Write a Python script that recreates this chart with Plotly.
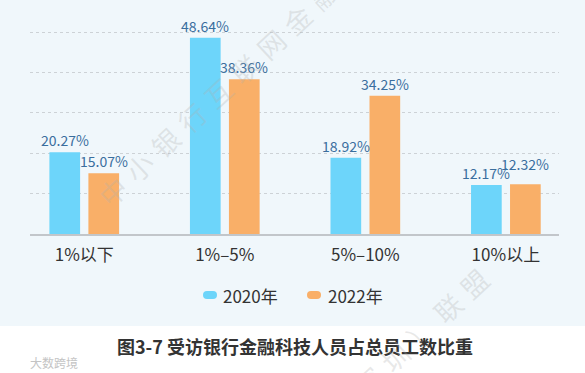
import plotly.graph_objects as go

# ---- data ----
categories = ["1%以下", "1%–5%", "5%–10%", "10%以上"]
series_names = ["2020年", "2022年"]
values_2020 = [20.27, 48.64, 18.92, 12.17]
values_2022 = [15.07, 38.36, 34.25, 12.32]
title_text = "图3-7 受访银行金融科技人员占总员工数比重"
watermark_text = "中小银行互联网金融（深圳）联盟"
logo_text = "大数跨境"

# ---- style ----
FONT = "Noto Sans CJK SC, Noto Sans, sans-serif"
C2020 = "#6DD5FA"
C2022 = "#F9AF68"
LABEL_C = "#3A6E9E"
BG = "#F0F7FB"
TXT = "#333333"

W, H = 585, 373
ML, MR, MT, MB = 30, 26, 12, 139
PW = W - ML - MR
PH = H - MT - MB


def px_x(p):
    return (p - ML) / PW


def px_y(p):
    return (H - MB - p) / PH


fig = go.Figure()
for name, vals, col in [(series_names[0], values_2020, C2020),
                        (series_names[1], values_2022, C2022)]:
    fig.add_trace(go.Bar(x=categories, y=vals, name=name,
                         marker=dict(color=col, line=dict(width=0)),
                         showlegend=False, hoverinfo="x+y+name"))

# value labels (annotations anchored to data coordinates)
slot = 19.5
extra_lift_2022 = [0, 0, 0, 8]
for i, c in enumerate(categories):
    fig.add_annotation(x=c, y=values_2020[i], text=f"{values_2020[i]:.2f}%",
                       xshift=-slot, yshift=12, yanchor="middle", showarrow=False,
                       font=dict(family=FONT, size=14, color=LABEL_C))
    fig.add_annotation(x=c, y=values_2022[i], text=f"{values_2022[i]:.2f}%",
                       xshift=slot, yshift=12 + extra_lift_2022[i], yanchor="middle",
                       showarrow=False, font=dict(family=FONT, size=14, color=LABEL_C))

shapes = [
    # white strip under the chart for the caption
    dict(type="rect", xref="paper", yref="paper", x0=-0.2, x1=1.2,
         y0=px_y(326), y1=px_y(H + 20), fillcolor="white", line=dict(width=0),
         layer="below"),
]
pill = "M-3,-4 L3,-4 Q7,-4 7,0 Q7,4 3,4 L-3,4 Q-7,4 -7,0 Q-7,-4 -3,-4 Z"
legend_pos = [(210, 221), (314, 326)]
for (mx, tx), name, col in zip(legend_pos, series_names, [C2020, C2022]):
    shapes.append(dict(type="path", xref="paper", yref="paper",
                       xsizemode="pixel", ysizemode="pixel",
                       xanchor=px_x(mx), yanchor=px_y(295), path=pill,
                       fillcolor=col, line=dict(width=0)))
    fig.add_annotation(xref="paper", yref="paper", x=px_x(tx), y=px_y(295),
                       xanchor="left", yanchor="middle", text=name, showarrow=False,
                       font=dict(family=FONT, size=17, color=TXT))

# caption
fig.add_annotation(xref="paper", yref="paper", x=px_x(294.5), y=px_y(346),
                   text=f"<b>{title_text}</b>", showarrow=False,
                   xanchor="center", yanchor="middle",
                   font=dict(family=FONT, size=18, color=TXT))

# watermark
sp = "\u2004"
wm = sp.join(list(watermark_text))
for cx, cy in [(297, 20), (289, 455)]:
    fig.add_annotation(xref="paper", yref="paper", x=px_x(cx), y=px_y(cy),
                       text=wm, textangle=-43, showarrow=False,
                       xanchor="center", yanchor="middle",
                       font=dict(family=FONT, size=27, color="rgba(175,175,175,0.28)"))

# logo text
fig.add_annotation(xref="paper", yref="paper", x=px_x(53.5), y=px_y(362),
                   text=logo_text, showarrow=False, xanchor="center", yanchor="middle",
                   font=dict(family=FONT, size=12, color="#C4C4C4"))

fig.update_layout(
    width=W, height=H,
    margin=dict(l=ML, r=MR, t=MT, b=MB, pad=0),
    paper_bgcolor=BG, plot_bgcolor=BG,
    barmode="group", bargap=0.445, bargroupgap=0.213,
    shapes=shapes,
    showlegend=False,
    font=dict(family=FONT, color=TXT),
)
fig.update_xaxes(type="category", range=[-0.386, 3.378], showline=True,
                 linecolor="#C2C6CA", linewidth=1.5, ticks="outside", ticklen=5,
                 tickcolor="rgba(0,0,0,0)", showgrid=False,
                 tickfont=dict(family=FONT, size=17, color=TXT), fixedrange=True)
fig.update_yaxes(range=[0, 55], dtick=10, showgrid=True, gridcolor="#CDD2D6",
                 griddash="3px,3px", gridwidth=1, zeroline=False,
                 showticklabels=False, showline=False, fixedrange=True)

fig.write_html("out.html", config={"displayModeBar": False},
               post_script="document.body.style.margin='0';document.body.style.overflow='hidden';")
